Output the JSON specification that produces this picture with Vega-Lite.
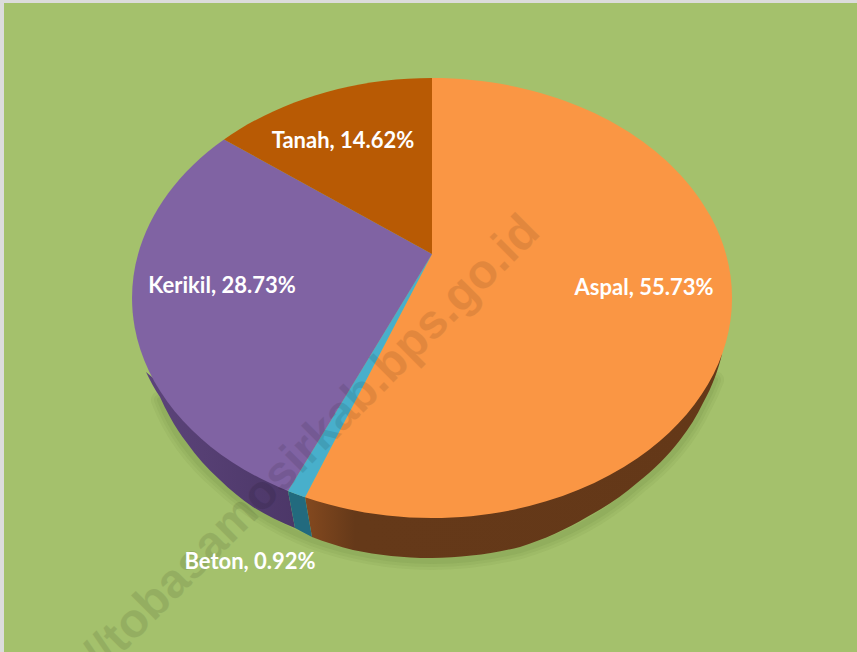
{
"$schema":"https://vega.github.io/schema/vega-lite/v6.json",
"width":853,"height":649,
"autosize":{"type":"none"},
"padding":{"left":4,"top":3,"right":0,"bottom":0},
"background":"#dcdcdc",
"view":{"fill":"#a4c16c","stroke":null},
"data":{"values":[
{"jenis":"Aspal","persen":55.73,"label":"Aspal, 55.73%"},
{"jenis":"Beton","persen":0.92,"label":"Beton, 0.92%"},
{"jenis":"Kerikil","persen":28.73,"label":"Kerikil, 28.73%"},
{"jenis":"Tanah","persen":14.62,"label":"Tanah, 14.62%"}
]},
"layer":[
{"transform":[{"filter":"datum.jenis==='Aspal'"}],
 "mark":{"type":"point","filled":false,"size":4,"opacity":1,"stroke":"#3f4f1a","strokeOpacity":0.05,"strokeWidth":18,"strokeCap":"round","shape":"M283,126 A285,215 0 0 1 271,152 A285,215 0 0 1 205,232 A285,215 0 0 1 88,296 A285,215 0 0 1 0,307 A285,215 0 0 1 -120,286 A285,215 0 0 1 -212,229 A285,215 0 0 1 -272,146"},
 "encoding":{"x":{"datum":432,"type":"quantitative","scale":{"domain":[4,857],"range":[0,853]},"axis":null},"y":{"datum":254,"type":"quantitative","scale":{"domain":[3,652],"range":[0,649]},"axis":null}}},
{"transform":[{"filter":"datum.jenis==='Aspal'"}],
 "mark":{"type":"point","filled":false,"size":4,"opacity":1,"stroke":"#3f4f1a","strokeOpacity":0.06,"strokeWidth":12,"strokeCap":"round","shape":"M283,126 A285,215 0 0 1 271,152 A285,215 0 0 1 205,232 A285,215 0 0 1 88,296 A285,215 0 0 1 0,307 A285,215 0 0 1 -120,286 A285,215 0 0 1 -212,229 A285,215 0 0 1 -272,146"},
 "encoding":{"x":{"datum":432,"type":"quantitative","scale":{"domain":[4,857],"range":[0,853]},"axis":null},"y":{"datum":254,"type":"quantitative","scale":{"domain":[3,652],"range":[0,649]},"axis":null}}},
{"transform":[{"filter":"datum.jenis==='Aspal'"}],
 "mark":{"type":"point","filled":false,"size":4,"opacity":1,"stroke":"#3f4f1a","strokeOpacity":0.07,"strokeWidth":6,"strokeCap":"round","shape":"M283,126 A285,215 0 0 1 271,152 A285,215 0 0 1 205,232 A285,215 0 0 1 88,296 A285,215 0 0 1 0,307 A285,215 0 0 1 -120,286 A285,215 0 0 1 -212,229 A285,215 0 0 1 -272,146"},
 "encoding":{"x":{"datum":432,"type":"quantitative","scale":{"domain":[4,857],"range":[0,853]},"axis":null},"y":{"datum":254,"type":"quantitative","scale":{"domain":[3,652],"range":[0,649]},"axis":null}}},
{"transform":[{"filter":"datum.jenis==='Aspal'"}],
 "mark":{"type":"point","filled":true,"size":4,"opacity":1,"fill":{"x1":0,"y1":0,"x2":1,"y2":0,"gradient":"linear","stops":[{"offset":0,"color":"#84491f"},{"offset":0.12,"color":"#653919"},{"offset":1,"color":"#643818"}]},"shape":"M290,100 A285,215 0 0 1 283,123 A285,215 0 0 1 271,149 A285,215 0 0 1 248,186 A285,215 0 0 1 205,229 A285,215 0 0 1 155,263 A285,215 0 0 1 88,293 A285,215 0 0 1 0,304 A285,215 0 0 1 -79,296 A285,215 0 0 1 -120,283 L-127,243.3 Z"},
 "encoding":{"x":{"datum":432,"type":"quantitative","scale":{"domain":[4,857],"range":[0,853]},"axis":null},"y":{"datum":254,"type":"quantitative","scale":{"domain":[3,652],"range":[0,649]},"axis":null}}},
{"transform":[{"filter":"datum.jenis==='Kerikil'"}],
 "mark":{"type":"point","filled":true,"size":4,"opacity":1,"fill":{"x1":0,"y1":0,"x2":1,"y2":0,"gradient":"linear","stops":[{"offset":0,"color":"#5c447a"},{"offset":1,"color":"#4c3768"}]},"shape":"M-144,237 L-137,274 A285,215 0 0 1 -179,253 A285,215 0 0 1 -212,226 A285,215 0 0 1 -245,189 A285,215 0 0 1 -262,163 A285,215 0 0 1 -272,143 A285,215 0 0 1 -286,118 Z"},
 "encoding":{"x":{"datum":432,"type":"quantitative","scale":{"domain":[4,857],"range":[0,853]},"axis":null},"y":{"datum":254,"type":"quantitative","scale":{"domain":[3,652],"range":[0,649]},"axis":null}}},
{"transform":[{"filter":"datum.jenis==='Beton'"}],
 "mark":{"type":"point","filled":true,"size":4,"opacity":1,"fill":"#226a7e","shape":"M-127,243.3 L-120,283 A285,215 0 0 1 -137,274 L-144,237 Z"},
 "encoding":{"x":{"datum":432,"type":"quantitative","scale":{"domain":[4,857],"range":[0,853]},"axis":null},"y":{"datum":254,"type":"quantitative","scale":{"domain":[3,652],"range":[0,649]},"axis":null}}},
{"mark":{"type":"point","filled":true,"size":4,"opacity":1},
 "encoding":{
  "x":{"datum":432,"type":"quantitative","scale":{"domain":[4,857],"range":[0,853]},"axis":null},
  "y":{"datum":254,"type":"quantitative","scale":{"domain":[3,652],"range":[0,649]},"axis":null},
  "shape":{"field":"jenis","type":"nominal","legend":null,"scale":{"domain":["Aspal","Beton","Kerikil","Tanah"],"range":[
    "M0,0 L0,-176 A300,220 0 1 1 -127,243.3 Z",
    "M0,0 L-127,243.3 A300,220 0 0 1 -144,237 Z",
    "M0,0 L-144,237 A300,220 0 0 1 -208,-114.5 Z",
    "M0,0 L-208,-114.5 A300,220 0 0 1 0,-176 Z"]}},
  "color":{"field":"jenis","type":"nominal","legend":null,"scale":{"domain":["Aspal","Beton","Kerikil","Tanah"],"range":["#fa9644","#48afcb","#8063a3","#b85a04"]}}
 }},
{"transform":[{"filter":"datum.jenis==='Aspal'"}],
 "mark":{"type":"text","text":"http://tobasamosirkab.bps.go.id","font":"Liberation Sans","fontWeight":"bold","fontSize":48,"angle":315,"align":"right","baseline":"middle","color":"#000000","opacity":0.09},
 "encoding":{"x":{"datum":532,"type":"quantitative","scale":{"domain":[4,857],"range":[0,853]},"axis":null},"y":{"datum":224,"type":"quantitative","scale":{"domain":[3,652],"range":[0,649]},"axis":null}}},
{"transform":[{"filter":"datum.jenis==='Aspal'"}],
 "mark":{"type":"text","font":"Lato","fontWeight":"bold","fontSize":22,"color":"#ffffff","align":"center","baseline":"middle"},
 "encoding":{"text":{"field":"label"},"x":{"datum":644,"type":"quantitative","scale":{"domain":[4,857],"range":[0,853]},"axis":null},"y":{"datum":288,"type":"quantitative","scale":{"domain":[3,652],"range":[0,649]},"axis":null}}},
{"transform":[{"filter":"datum.jenis==='Beton'"}],
 "mark":{"type":"text","font":"Lato","fontWeight":"bold","fontSize":22,"color":"#ffffff","align":"center","baseline":"middle"},
 "encoding":{"text":{"field":"label"},"x":{"datum":250,"type":"quantitative","scale":{"domain":[4,857],"range":[0,853]},"axis":null},"y":{"datum":562,"type":"quantitative","scale":{"domain":[3,652],"range":[0,649]},"axis":null}}},
{"transform":[{"filter":"datum.jenis==='Kerikil'"}],
 "mark":{"type":"text","font":"Lato","fontWeight":"bold","fontSize":22,"color":"#ffffff","align":"center","baseline":"middle"},
 "encoding":{"text":{"field":"label"},"x":{"datum":222,"type":"quantitative","scale":{"domain":[4,857],"range":[0,853]},"axis":null},"y":{"datum":286,"type":"quantitative","scale":{"domain":[3,652],"range":[0,649]},"axis":null}}},
{"transform":[{"filter":"datum.jenis==='Tanah'"}],
 "mark":{"type":"text","font":"Lato","fontWeight":"bold","fontSize":22,"color":"#ffffff","align":"center","baseline":"middle"},
 "encoding":{"text":{"field":"label"},"x":{"datum":343,"type":"quantitative","scale":{"domain":[4,857],"range":[0,853]},"axis":null},"y":{"datum":141,"type":"quantitative","scale":{"domain":[3,652],"range":[0,649]},"axis":null}}}
]
}
